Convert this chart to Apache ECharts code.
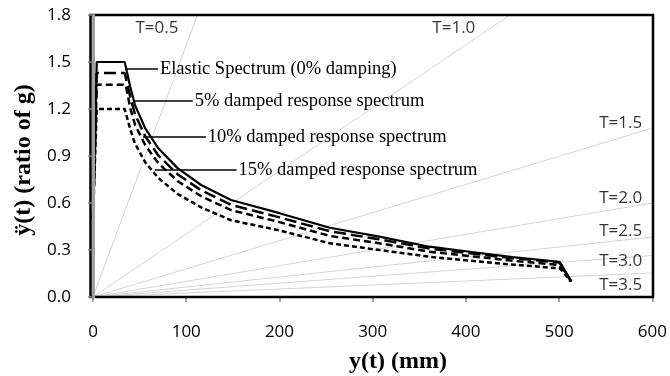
<!DOCTYPE html>
<html><head><meta charset="utf-8">
<script src="https://cdn.jsdelivr.net/npm/echarts@6/dist/echarts.min.js"></script>
<style>html,body{margin:0;padding:0;background:#fff}#c{width:670px;height:376px}</style>
</head><body><div id="c"></div>
<script>
// Spectrum curves: [displacement mm, acceleration g]
const elastic = [[0,0.5],[4,1.5],[34,1.5],[40,1.34],[45,1.225],[56,1.077],[70,0.949],[91,0.821],[116,0.715],[148,0.619],[200,0.535],[254,0.442],[307,0.385],[361,0.321],[404,0.289],[450,0.255],[500,0.225],[503,0.2],[513,0.098]];
const damped5 = [[0,0.5],[4,1.43],[34,1.43],[40,1.277],[45,1.167],[56,1.026],[70,0.904],[91,0.782],[116,0.681],[148,0.588],[200,0.508],[254,0.42],[307,0.368],[361,0.309],[404,0.279],[450,0.248],[500,0.22],[503,0.195],[513,0.098]];
const damped10 = [[0,0.5],[4,1.355],[35,1.355],[40,1.206],[45,1.1],[56,0.97],[70,0.854],[91,0.739],[116,0.643],[148,0.555],[200,0.478],[254,0.39],[307,0.343],[361,0.289],[404,0.261],[450,0.232],[500,0.205],[503,0.185],[513,0.1]];
const damped15 = [[0,0.5],[4,1.2],[34,1.2],[40,1.07],[45,0.98],[56,0.86],[70,0.76],[91,0.657],[116,0.572],[148,0.49],[200,0.425],[254,0.343],[307,0.3],[361,0.257],[404,0.232],[450,0.207],[500,0.183],[503,0.17],[512,0.1]];
// Constant-period reference lines (end points)
const periodNames = ['T=0.5','T=1.0','T=1.5','T=2.0','T=2.5','T=3.0','T=3.5'];
const periodEnds = [[112,1.8],[447,1.8],[600,1.078],[600,0.60],[600,0.383],[600,0.265],[600,0.153]];
// Period label anchors
const periodLabelPos = [[68.6,1.717,'center'],[387,1.717,'center'],[589,1.11,'right'],[589,0.632,'right'],[589,0.421,'right'],[589,0.23,'right'],[589,0.077,'right']];
// Curve annotations: leader start x, leader end x, y, text
const annoText = ['Elastic Spectrum (0% damping)','5% damped response spectrum','10% damped response spectrum','15% damped response spectrum'];
const annoLeaders = [[34.3,69.6,1.455],[45,107,1.251],[53.6,121,1.021],[66.4,154,0.81]];
const xTicks = [0,100,200,300,400,500,600];
const yTicks = [0,0.3,0.6,0.9,1.2,1.5,1.8];

const chart = echarts.init(document.getElementById('c'), null, {renderer:'canvas'});
const series = [];
periodEnds.forEach((e,i)=>{
  series.push({type:'line', name:periodNames[i], data:[[0,0],e], symbol:'none', silent:true,
    lineStyle:{color:'#d3d3d3', width:1}, z:1, clip:false});
});
const curveStyles = [
  {data:elastic, type:'solid'},
  {data:damped5, type:[12,5]},
  {data:damped10, type:[7,4]},
  {data:damped15, type:[5,3]}
];
curveStyles.forEach((c,i)=>{
  series.push({type:'line', data:c.data, symbol:'none', silent:true, z:3,
    lineStyle:{color:'#000', width:i===0?2.2:2.5, type:c.type}});
});
annoLeaders.forEach((a,i)=>{
  series.push({type:'line', data:[[a[0],a[2]],[a[1],a[2]]], symbol:'none', silent:true, z:4,
    lineStyle:{color:'#000', width:1.5},
    endLabel:{show:true, formatter:annoText[i], distance:2, color:'#000',
      fontFamily:'Liberation Serif', fontSize:18.5}});
});
series.push({type:'scatter', symbolSize:0, silent:true, z:5,
  data: periodLabelPos.map((p,i)=>({value:[p[0],p[1]], label:{align:p[2]}, name:periodNames[i]})),
  label:{show:true, position:'inside', formatter:p=>p.name, color:'#000',
    fontFamily:'Open Sans', fontSize:17}});

const G = {left:93, right:17, top:15, bottom:79};
chart.setOption({
  animation:false,
  grid:G,
  xAxis:{type:'value', min:xTicks[0], max:xTicks[xTicks.length-1], interval:100,
    axisLine:{onZero:false, lineStyle:{color:'#000', width:2}},
    axisTick:{show:true, length:5, lineStyle:{color:'#888', width:1.5}},
    axisLabel:{margin:27, color:'#000', fontFamily:'Open Sans', fontSize:17},
    splitLine:{show:false}},
  yAxis:{type:'value', min:yTicks[0], max:yTicks[yTicks.length-1], interval:0.3, z:60,
    axisLine:{show:true, onZero:false, lineStyle:{color:'#a0a0a0', width:3}},
    axisTick:{show:true, length:5, lineStyle:{color:'#888', width:1.5}},
    axisLabel:{margin:22, color:'#000', fontFamily:'Open Sans', fontSize:17, formatter:v=>v.toFixed(1)},
    splitLine:{show:false}},
  graphic:[
    {type:'rect', z:50, silent:true, shape:{x:G.left-2.5, y:G.top, width:670-G.left-G.right+2.5, height:376-G.top-G.bottom},
      style:{fill:'none', stroke:'#000', lineWidth:2.5}},
    {type:'text', style:{text:'y(t) (mm)', x:398, y:362, align:'center', verticalAlign:'middle',
      font:'bold 24px "Liberation Serif"', fill:'#000'}},
    {type:'text', rotation:Math.PI/2, x:23.5, y:160, style:{text:'ÿ(t) (ratio of g)', align:'center', verticalAlign:'middle',
      font:'bold 24px "Liberation Serif"', fill:'#000'}}
  ],
  series:series
});
</script></body></html>
